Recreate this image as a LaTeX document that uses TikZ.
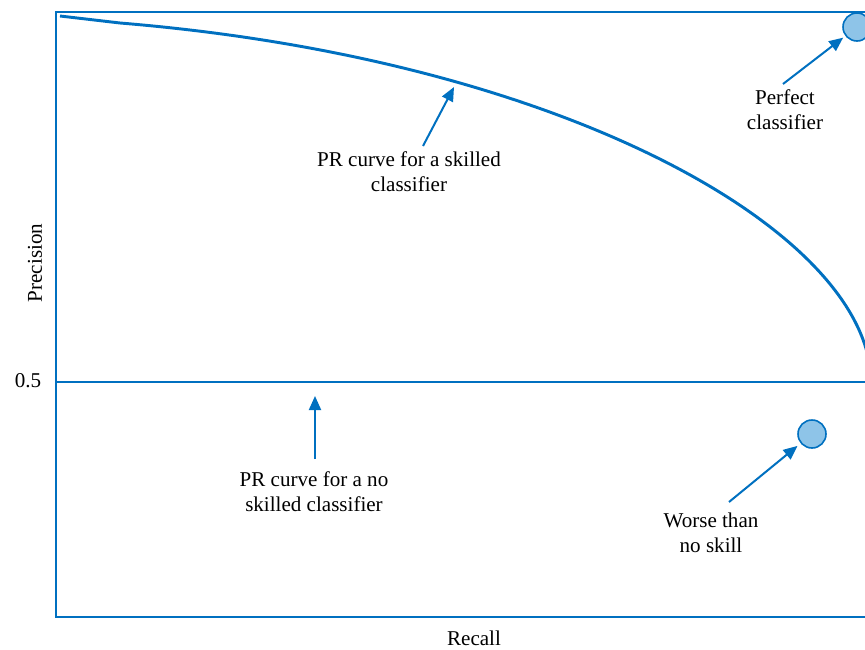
\documentclass[tikz,border=0pt]{standalone}
\usepackage{fontspec}
\setmainfont{Liberation Serif}
\usetikzlibrary{arrows.meta}
\definecolor{prblue}{RGB}{0,112,192}
\definecolor{dotfill}{RGB}{142,196,232}
\begin{document}
\begin{tikzpicture}[x=0.75pt,y=-0.75pt,
  frame/.style={draw=prblue,line width=1.6pt},
  prcurve/.style={draw=prblue,line width=2.2pt,line join=round},
  baseline/.style={draw=prblue,line width=1.5pt},
  pointer/.style={draw=prblue,line width=1.5pt,-{Triangle[length=10.5pt,width=9pt]}},
  dot/.style={circle,draw=prblue,fill=dotfill,line width=1.2pt,minimum size=21pt,inner sep=0pt},
  lbl/.style={align=center,font=\fontsize{15.8}{19}\selectfont,inner sep=0pt}]
\useasboundingbox (0,0) rectangle (865,650);
% plot frame, open to the right
\draw[frame] (900,12) -- (56,12) -- (56,617) -- (900,617);
% no-skill baseline at precision 0.5
\draw[baseline] (56,382) -- (900,382);
% precision-recall curve of a skilled classifier
\draw[prcurve] (60,16) -- (120,23) .. controls (570,60) and (871,235) .. (871,382);
% axis texts
\node[lbl] (half) at (28,381) {0.5};
\node[lbl,rotate=90] (ylab) at (35,263) {Precision};
\node[lbl] (xlab) at (474,638) {Recall};
% points
\node[dot] (perfect) at (857,27) {};
\node[dot] (worse) at (812,434) {};
% annotations
\node[lbl] (skilledLbl) at (409,172) {PR curve for a skilled\\classifier};
\node[lbl] (noskillLbl) at (314,492) {PR curve for a no\\skilled classifier};
\node[lbl] (perfectLbl) at (785,110) {Perfect\\classifier};
\node[lbl] (worseLbl) at (711,533) {Worse than\\no skill};
\coordinate (skilledTail) at (423,146);
\coordinate (skilledTip) at (454,87);
\coordinate (noskillTail) at (315,459);
\coordinate (noskillTip) at (315,396);
\coordinate (perfectTail) at (783,84);
\coordinate (worseTail) at (729,502);
\draw[pointer] (skilledTail) -- (skilledTip);
\draw[pointer] (noskillTail) -- (noskillTip);
\draw[pointer,shorten >=2pt] (perfectTail) -- (perfect);
\draw[pointer,shorten >=3pt] (worseTail) -- (worse);
\end{tikzpicture}
\end{document}
